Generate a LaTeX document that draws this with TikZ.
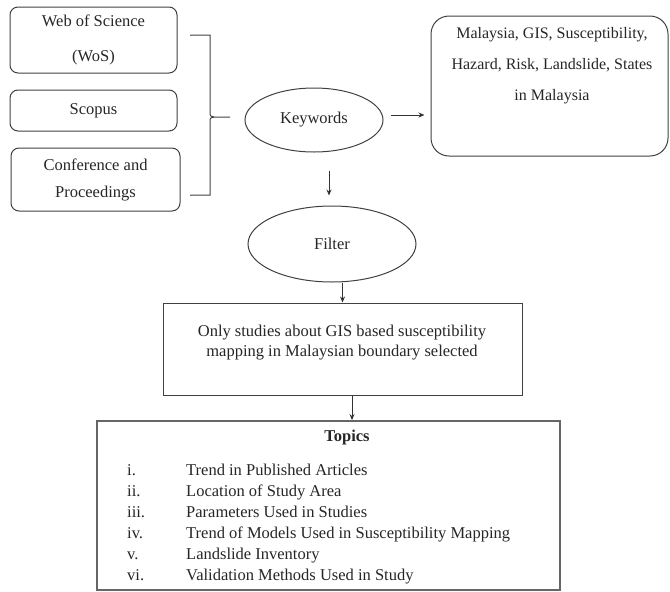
\documentclass[tikz,border=0pt]{standalone}
\usepackage{fontspec}
\setmainfont{Liberation Serif}
\usetikzlibrary{shapes.geometric,arrows.meta}
\begin{document}
\begin{tikzpicture}[x=1pt,y=-1pt,
  line/.style={draw=black!75, line width=1pt},
  rbox/.style={line, rounded corners=8pt, align=center, inner sep=0pt},
  ell/.style={line, ellipse, inner sep=0pt},
  arr/.style={draw=black!80, line width=1pt, -{Stealth[length=6pt,width=5pt]}},
  txt/.style={font=\fontsize{16.5}{19}\selectfont, text=black!85, align=center},
  item/.style={font=\fontsize{16.5}{19}\selectfont, text=black!85, anchor=base west, inner sep=0pt}
]
\useasboundingbox (0,0) rectangle (670,592);

% source boxes
\node[rbox, txt, minimum width=167pt, minimum height=66pt] (wos) at (93.5,40) {Web of Science\\[16pt](WoS)};
\node[rbox, txt, minimum width=167pt, minimum height=41pt] (sco) at (93.5,110.5) {Scopus};
\node[rbox, txt, minimum width=169pt, minimum height=63pt] (conf) at (95.5,179.5) {Conference and\\[8pt]Proceedings};

% brace
\coordinate (brtip) at (230,117);
\draw[line] (190,35) -- (210,35) -- (210,112) .. controls (210,116) .. (214,117) -- (brtip);
\draw[line] (190,195) -- (210,195) -- (210,122) .. controls (210,118) .. (214,117);

% keywords
\node[ell, txt, minimum width=138pt, minimum height=64pt] (kw) at (314,120) {Keywords};

% keyword list box
\node[rbox, rounded corners=18pt, minimum width=237pt, minimum height=140pt] (mal) at (549.5,86) {};
\node[txt, font=\fontsize{16}{19}\selectfont] (maltxt) at (552,66) {Malaysia, GIS, Susceptibility,\\[12pt]Hazard, Risk, Landslide, States\\[12pt]in Malaysia};

% filter
\node[ell, txt, minimum width=168pt, minimum height=76pt] (fl) at (332,244) {Filter};

% selection box
\node[line, minimum width=359pt, minimum height=92pt] (only) at (342.5,349) {};
\node[txt] (onlytxt) at (342,343) {Only studies about GIS based susceptibility\\[1pt]mapping in Malaysian boundary selected};

% topics box
\node[draw=black!60, line width=1.8pt, minimum width=463pt, minimum height=169pt] (top) at (328.5,505.5) {};
\node[txt, font=\fontsize{16.5}{19}\selectfont\bfseries] (toph) at (347,438) {Topics};
\foreach \n/\t [count=\k from 0] in {i./Trend in Published Articles, ii./Location of Study Area, iii./Parameters Used in Studies, iv./Trend of Models Used in Susceptibility Mapping, v./Landslide Inventory, vi./Validation Methods Used in Study}{
  \node[item] (num\k) at (127,475+21*\k) {\n};
  \node[item] (it\k) at (186,475+21*\k) {\t};
}

% arrows
\draw[arr, shorten >=13pt] ([xshift=7pt,yshift=5pt]kw.east) -- ([xshift=7pt,yshift=5pt]kw.east -| mal.west);
\draw[arr] ([xshift=15pt,yshift=-18pt]kw.south) -- ([xshift=-3pt,yshift=10pt]fl.north);
\draw[arr] (only.north |- fl.south) -- (only.north);
\draw[arr] ([xshift=9.5pt]only.south) -- ([xshift=9.5pt]only.south |- top.north);
\end{tikzpicture}
\end{document}
